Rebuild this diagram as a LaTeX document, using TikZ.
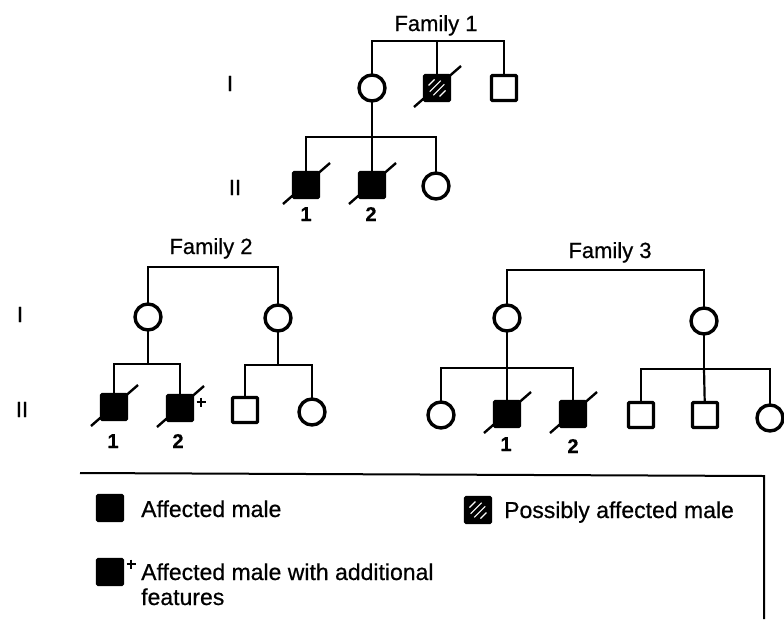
\documentclass[tikz,border=0pt]{standalone}
\usepackage{fontspec}
\setmainfont{Liberation Sans}[FakeBold=0.6]
\usetikzlibrary{backgrounds}
\begin{document}
\begin{tikzpicture}[x=1pt,y=-1pt,
  conn/.style={line width=2.2pt},
  indiv/.style={draw, line width=3.4pt, inner sep=0pt, outer sep=0pt},
  male/.style={indiv, rectangle, minimum size=25pt, rounded corners=1pt},
  female/.style={indiv, circle, minimum size=26pt},
  aff/.style={male, fill=black},
  poss/.style={male, fill=black, path picture={
    \foreach \d/\l in {-5.5/3, -1.8/5.5, 1.8/5.5, 5.5/3}
      \draw[white, line width=1.1pt]
        ([shift={(\d-\l,\d+\l)}]path picture bounding box.center) --
        ([shift={(\d+\l,\d-\l)}]path picture bounding box.center);}},
  slash/.style={line width=2.4pt},
  plusmark/.style={line width=2.8pt},
  famlabel/.style={font=\fontsize{22}{26}\selectfont, anchor=base, inner sep=0pt},
  genlabel/.style={font=\fontsize{22}{26}\selectfont, anchor=base, inner sep=0pt},
  numlabel/.style={font=\fontsize{20}{24}\selectfont\bfseries, anchor=base, inner sep=0pt},
  legtext/.style={font=\fontsize{23}{26}\selectfont, anchor=base west, inner sep=0pt},
  frame/.style={line width=2pt},
]
\useasboundingbox (0,0) rectangle (784,619);

% ---------- Family 1 ----------
\node[famlabel] (fam1) at (436,31) {Family 1};
\node[genlabel] (g1a) at (230,91) {I};
\node[genlabel] (g1b) at (235,195) {II};
\node[female] (f1a) at (372,88) {};
\node[poss]   (f1b) at (437,88) {};
\node[male]   (f1c) at (504,88) {};
\node[aff]    (f1d) at (306,185) {};
\node[aff]    (f1e) at (372,185) {};
\node[female] (f1f) at (436,186) {};
\node[numlabel] (n1a) at (306,221) {1};
\node[numlabel] (n1b) at (371,221) {2};
\coordinate (f1bar) at (437,41);
\coordinate (f1sib) at (372,137);
\draw[conn] (f1a) |- (f1bar) -| (f1c);
\draw[conn] (f1bar) -- (f1b);
\draw[conn] (f1a) -- (f1sib);
\draw[conn] (f1d) |- (f1sib) -| (f1f);
\draw[conn] (f1sib) -- (f1e);

% ---------- Family 2 ----------
\node[famlabel] (fam2) at (211,254) {Family 2};
\node[genlabel] (g2a) at (20,322) {I};
\node[genlabel] (g2b) at (22,417) {II};
\node[female] (f2a) at (148,317) {};
\node[female] (f2b) at (278,318) {};
\node[aff]    (f2c) at (114,407) {};
\node[aff]    (f2d) at (180,408) {};
\node[male]   (f2e) at (245,410) {};
\node[female] (f2f) at (312,412) {};
\node[numlabel] (n2a) at (113,448) {1};
\node[numlabel] (n2b) at (178,448) {2};
\coordinate (f2bar) at (213,267);
\coordinate (f2sibL) at (148,364);
\coordinate (f2sibR) at (278,365);
\draw[conn] (f2a) |- (f2bar) -| (f2b);
\draw[conn] (f2a) -- (f2sibL);
\draw[conn] (f2c) |- (f2sibL) -| (f2d);
\draw[conn] (f2b) -- (f2sibR);
\draw[conn] (f2e) |- (f2sibR) -| (f2f);
\coordinate (plus1) at (201,402);
\draw[plusmark] (plus1) +(-4.5,0) -- +(4.5,0) (plus1) +(0,-4.5) -- +(0,4.5);

% ---------- Family 3 ----------
\node[famlabel] (fam3) at (610,258) {Family 3};
\node[female] (f3a) at (507,318) {};
\node[female] (f3b) at (704,321) {};
\node[female] (f3c) at (441,415) {};
\node[aff]    (f3d) at (507,414) {};
\node[aff]    (f3e) at (573,414) {};
\node[male]   (f3f) at (641,415) {};
\node[male]   (f3g) at (705,415) {};
\node[female] (f3h) at (770,418) {};
\node[numlabel] (n3a) at (506,451) {1};
\node[numlabel] (n3b) at (573,453) {2};
\coordinate (f3bar) at (605,270);
\coordinate (f3sibL) at (507,368);
\coordinate (f3sibR) at (704,369);
\draw[conn] (f3a) |- (f3bar) -| (f3b);
\draw[conn] (f3a) -- (f3sibL);
\draw[conn] (f3c) |- (f3sibL) -| (f3e);
\draw[conn] (f3sibL) -- (f3d);
\draw[conn] (f3b) -- (f3sibR);
\draw[conn] (f3f) |- (f3sibR) -| (f3h);
\draw[conn] (f3sibR) -- (f3g);

% ---------- deceased slashes ----------
\begin{scope}[on background layer]
\foreach \n in {f1b,f1d,f1e,f2c,f2d,f3d,f3e}
  \draw[slash] (\n.center) ++(-23,19) -- ++(47,-41);
\end{scope}

% ---------- Legend ----------
\coordinate (legTL) at (80,473);
\coordinate (legTR) at (764,476);
\coordinate (legBR) at (764,619);
\draw[frame] (legTL) -- (legTR) -- (legBR);
\node[aff] (legA) at (110,508) {};
\node[legtext] (legAt) at (141,517) {Affected male};
\node[poss] (legP) at (478,510) {};
\node[legtext] (legPt) at (504,518) {Possibly affected male};
\node[aff] (legF) at (110,572) {};
\coordinate (plus2) at (131,564);
\draw[plusmark] (plus2) +(-4.5,0) -- +(4.5,0) (plus2) +(0,-4.5) -- +(0,4.5);
\node[legtext] (legFt1) at (141,580) {Affected male with additional};
\node[legtext] (legFt2) at (141,605) {features};
\end{tikzpicture}
\end{document}
